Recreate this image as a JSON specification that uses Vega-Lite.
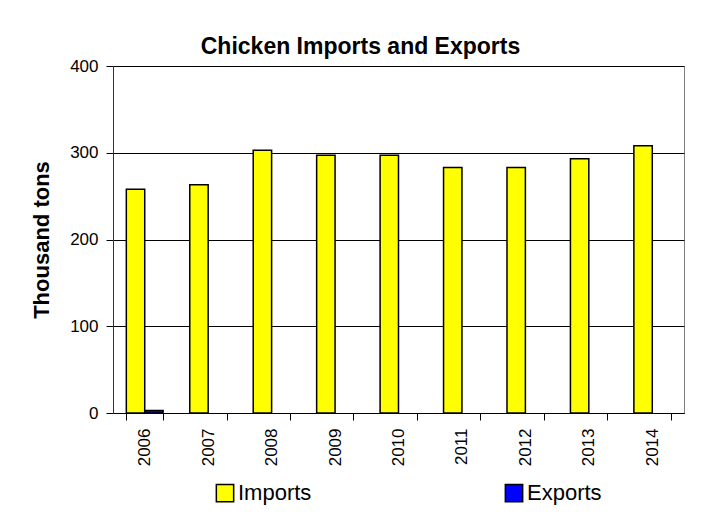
{
  "$schema": "https://vega.github.io/schema/vega-lite/v6.json",
  "autosize": {"type": "none"},
  "width": 571,
  "height": 347,
  "padding": {"left": 113, "top": 66, "right": 26, "bottom": 103},
  "background": "white",
  "title": {
    "text": "Chicken Imports and Exports",
    "font": "Liberation Sans",
    "fontSize": 23,
    "fontWeight": "bold",
    "color": "black",
    "anchor": "middle",
    "dx": -38,
    "offset": -2
  },
  "data": {
    "values": [
      {"Year": "2006", "Type": "Imports", "Value": 258},
      {"Year": "2007", "Type": "Imports", "Value": 263},
      {"Year": "2008", "Type": "Imports", "Value": 303},
      {"Year": "2009", "Type": "Imports", "Value": 297},
      {"Year": "2010", "Type": "Imports", "Value": 297},
      {"Year": "2011", "Type": "Imports", "Value": 283},
      {"Year": "2012", "Type": "Imports", "Value": 283},
      {"Year": "2013", "Type": "Imports", "Value": 293},
      {"Year": "2014", "Type": "Imports", "Value": 308},
      {"Year": "2006", "Type": "Exports", "Value": 3}
    ]
  },
  "mark": {"type": "bar", "stroke": "black", "strokeWidth": 1.5},
  "encoding": {
    "x": {
      "field": "Year",
      "type": "nominal",
      "scale": {"paddingInner": 0.42, "paddingOuter": 0.21},
      "axis": {
        "title": null,
        "labelAngle": -90,
        "labelFont": "Liberation Sans",
        "labelFontSize": 17,
        "labelColor": "black",
        "labelPadding": 8,
        "tickBand": "extent",
        "tickSize": 7,
        "tickColor": "black",
        "domainColor": "black"
      }
    },
    "xOffset": {
      "field": "Type",
      "type": "nominal",
      "scale": {"domain": ["Imports", "Exports"], "paddingInner": 0, "paddingOuter": 0}
    },
    "y": {
      "field": "Value",
      "type": "quantitative",
      "scale": {"domain": [0, 400], "nice": false},
      "axis": {
        "title": "Thousand tons",
        "titleFont": "Liberation Sans",
        "titleFontSize": 22,
        "titleFontWeight": "bold",
        "titleColor": "black",
        "titlePadding": 16,
        "values": [0, 100, 200, 300, 400],
        "labelFont": "Liberation Sans",
        "labelFontSize": 17,
        "labelColor": "black",
        "labelPadding": 8,
        "tickSize": 7,
        "tickColor": "black",
        "domainColor": "#333333",
        "gridColor": "black",
        "gridOpacity": 1
      }
    },
    "color": {
      "field": "Type",
      "type": "nominal",
      "scale": {"domain": ["Imports", "Exports"], "range": ["#FFFF00", "#0000FF"]},
      "legend": {
        "title": null,
        "orient": "none",
        "legendX": 101,
        "legendY": 416,
        "direction": "horizontal",
        "columns": 2,
        "columnPadding": 190,
        "symbolType": "square",
        "symbolSize": 300,
        "symbolStrokeColor": "black",
        "symbolStrokeWidth": 1.5,
        "symbolOpacity": 1,
        "labelFont": "Liberation Sans",
        "labelFontSize": 22,
        "labelColor": "black",
        "labelOffset": 2
      }
    }
  },
  "config": {
    "view": {"stroke": "#808080", "strokeWidth": 1}
  }
}
